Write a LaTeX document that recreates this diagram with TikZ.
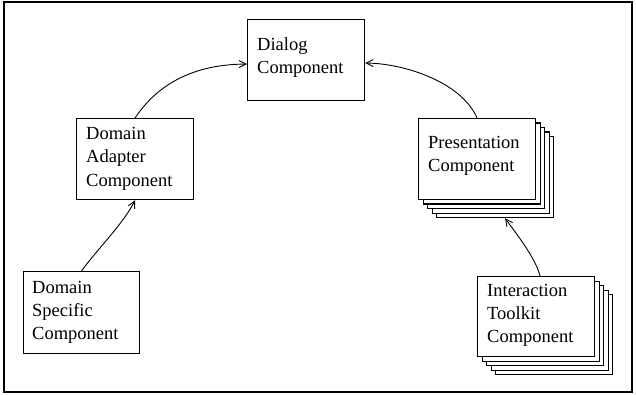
\documentclass[tikz,border=0pt]{standalone}
\usepackage{fontspec}
\setmainfont{Liberation Serif}
\usetikzlibrary{arrows.meta}
\begin{document}
\begin{tikzpicture}[x=1pt,y=-1pt,
  comp/.style={draw, line width=1.2pt, fill=white, rectangle, anchor=north west,
    inner sep=0pt, minimum width=117pt, minimum height=81pt},
  lbl/.style={anchor=base west, inner sep=0pt, align=left,
    font=\fontsize{18.5}{23}\selectfont},
  flow/.style={line width=0.9pt, -{Straight Barb[length=7pt,width=7pt]}},
  frame/.style={draw, line width=1.2pt}]
\useasboundingbox (0,0) rectangle (636,395);
\draw[frame] (4,2) rectangle (632,392);

% Dialog
\node[comp] (dialog) at (247,19) {};
\node[lbl] (dialogtxt) at (257,74) {Dialog\\Component};

% Domain Adapter
\node[comp] (adapter) at (76,118) {};
\node[lbl] (adaptertxt) at (86,186) {Domain\\Adapter\\Component};

% Domain Specific
\node[comp, minimum width=116pt, minimum height=82pt] (specific) at (23,271) {};
\node[lbl] (specifictxt) at (32,339) {Domain\\Specific\\Component};

% Presentation stack
\foreach \i in {4,3,2,1} {
  \node[comp] (pres\i) at ({418+4.5*\i},{118+4.5*\i}) {};
}
\node[comp] (pres) at (418,118) {};
\node[lbl] (prestxt) at (428,172) {Presentation\\Component};

% Interaction stack
\foreach \i in {4,3,2,1} {
  \node[comp, minimum height=80pt] (inter\i) at ({477+4.5*\i},{276+4.5*\i}) {};
}
\node[comp, minimum height=80pt] (inter) at (477,276) {};
\node[lbl] (intertxt) at (487,342) {Interaction\\Toolkit\\Component};

% connectors
\draw[flow] (specific.north) .. controls +(14,-20) and +(-12,24) .. (adapter.south);
\draw[flow] (adapter.north) .. controls +(25,-38) and +(-47,0) .. ([yshift=-4pt]dialog.west);
\draw[flow] (pres.north) .. controls +(-17,-38) and +(35,0) .. ([yshift=-3pt]dialog.east);
\draw[flow] ([xshift=4pt]inter.north) .. controls +(-5,-19) and +(10,14) .. ([xshift=10pt]pres4.south);
\end{tikzpicture}
\end{document}
